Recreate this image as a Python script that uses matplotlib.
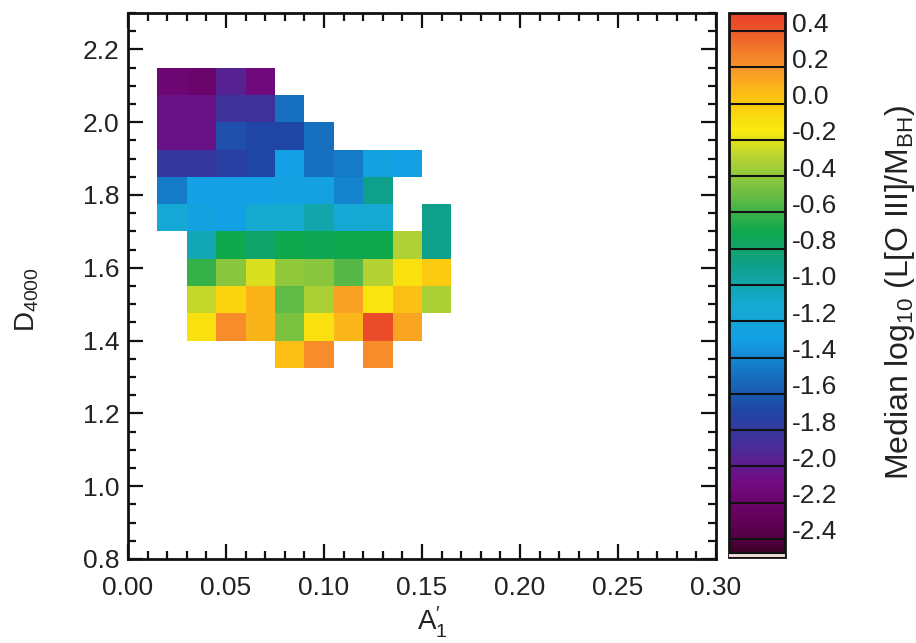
import matplotlib
matplotlib.use("Agg")
import matplotlib.pyplot as plt
import matplotlib.transforms as mtransforms
import numpy as np
from matplotlib.cm import ScalarMappable
from matplotlib.colors import LinearSegmentedColormap, Normalize
from matplotlib.ticker import FixedLocator, MultipleLocator

nan = np.nan

# bin edges of the 2D grid
a1_edges = [0.015, 0.030, 0.045, 0.060, 0.075, 0.090, 0.105, 0.120, 0.135, 0.150, 0.165]
d4000_edges = [1.325, 1.400, 1.475, 1.550, 1.625, 1.700, 1.775, 1.850, 1.925, 2.000, 2.075, 2.150]

# median log10(L[OIII]/M_BH) per bin, rows from low D4000 (bottom) to high D4000 (top)
median_ratio = [
    [nan, nan, nan, nan, 0.05, 0.22, nan, 0.22, nan, nan],
    [nan, -0.10, 0.22, 0.10, -0.45, -0.10, 0.08, 0.45, 0.14, nan],
    [nan, -0.27, -0.05, 0.10, -0.52, -0.33, 0.15, -0.12, 0.05, -0.33],
    [nan, -0.62, -0.42, -0.22, -0.40, -0.42, -0.55, -0.30, -0.10, 0.00],
    [nan, -1.02, -0.70, -0.80, -0.70, -0.72, -0.70, -0.70, -0.32, -0.90],
    [-1.15, -1.25, -1.30, -1.10, -1.10, -1.00, -1.15, -1.12, nan, -0.90],
    [-1.45, -1.30, -1.30, -1.30, -1.28, -1.25, -1.42, -0.90, nan, nan],
    [-1.80, -1.80, -1.75, -1.70, -1.30, -1.50, -1.45, -1.25, -1.30, nan],
    [-2.05, -2.05, -1.65, -1.70, -1.70, -1.50, nan, nan, nan, nan],
    [-2.05, -2.05, -1.85, -1.85, -1.50, nan, nan, nan, nan, nan],
    [-2.15, -2.20, -1.95, -2.12, nan, nan, nan, nan, nan, nan],
]

cbar_ticks = [0.4, 0.2, 0.0, -0.2, -0.4, -0.6, -0.8, -1.0, -1.2, -1.4, -1.6, -1.8, -2.0, -2.2, -2.4]

# colour table anchors (value, colour)
cmap_values = [-2.48, -2.42, -2.3, -2.1, -1.9, -1.7, -1.5, -1.3, -1.1, -0.9, -0.7,
               -0.5, -0.3, -0.15, 0.0, 0.1, 0.2, 0.3, 0.4, 0.5]
cmap_colors = ["#3c0020", "#4e0040", "#620058", "#720a80", "#4a2c98", "#1f45a5", "#1670bf",
               "#13a0e4", "#15aad0", "#0fa08c", "#10a84c", "#6bbd45", "#b4d234", "#f8ec10",
               "#fccc10", "#fbb31a", "#f7952a", "#f27a2a", "#ec5a2a", "#e8402a"]

plt.rcParams["font.family"] = ["Liberation Sans", "DejaVu Sans"]
plt.rcParams["axes.unicode_minus"] = False
plt.rcParams["mathtext.fontset"] = "custom"
plt.rcParams["mathtext.rm"] = "Liberation Sans"
plt.rcParams["mathtext.it"] = "Liberation Sans"

vmin, vmax = -2.5, 0.5
norm = Normalize(vmin=vmin, vmax=vmax)
cmap = LinearSegmentedColormap.from_list(
    "oiii", [(0.0, cmap_colors[0])] + [((v - vmin) / (vmax - vmin), c) for v, c in zip(cmap_values, cmap_colors)]
)

fig = plt.figure(figsize=(9.16, 6.43), dpi=100)
ax = fig.add_axes([128 / 916, 1 - 559 / 643, 588 / 916, 546 / 643])

grid = np.ma.masked_invalid(np.array(median_ratio))
ax.pcolormesh(a1_edges, d4000_edges, grid, cmap=cmap, norm=norm)

ax.set_xlim(0.0, 0.30)
ax.set_ylim(0.8, 2.3)
ax.xaxis.set_major_locator(MultipleLocator(0.05))
ax.xaxis.set_minor_locator(MultipleLocator(0.01))
ax.yaxis.set_major_locator(MultipleLocator(0.2))
ax.yaxis.set_minor_locator(MultipleLocator(0.05))
ax.xaxis.set_major_formatter(plt.FormatStrFormatter("%.2f"))
ax.yaxis.set_major_formatter(plt.FormatStrFormatter("%.1f"))
ax.tick_params(which="both", direction="in", top=True, right=True, width=1.6, color="#111111")
ax.tick_params(which="major", length=11, labelsize=19, labelcolor="#222222")
ax.tick_params(which="minor", length=6)
ax.tick_params(axis="x", pad=12)
ax.tick_params(axis="y", pad=6)
for sp in ax.spines.values():
    sp.set_linewidth(2)
    sp.set_color("#111111")

fig.text(432 / 916, 1 - 622 / 643, r"A$_1^{\prime}$", fontsize=20, ha="center", va="center",
         color="#222222")
fig.text(27 / 916, 1 - 300 / 643, r"D$_{4000}$", fontsize=20, ha="center", va="center",
         rotation=90, color="#222222")

# colour bar
cax = fig.add_axes([729 / 916, 1 - 557 / 643, 56 / 916, 544 / 643])
sm = ScalarMappable(norm=norm, cmap=cmap)
cb = fig.colorbar(sm, cax=cax)
cb.outline.set_linewidth(2)
cb.outline.set_edgecolor("#111111")
cax.axhspan(-2.5, -2.48, color="#f0dada", zorder=3)
for lev in cbar_ticks + [-2.48]:
    cax.axhline(lev, color="#111111", linewidth=1.5, zorder=4)
cax.yaxis.set_major_locator(FixedLocator(cbar_ticks))
cax.yaxis.set_minor_locator(FixedLocator([]))
cax.set_yticklabels([f"{t:.1f}" for t in cbar_ticks])
cax.tick_params(length=0, labelsize=19, pad=5, labelcolor="#222222")
shift = mtransforms.ScaledTranslation(0, 0.09, fig.dpi_scale_trans)
for lab in cax.get_yticklabels():
    lab.set_transform(lab.get_transform() + shift)

fig.text(900 / 916, 1 - 292 / 643, r"Median log$_{10}$ (L[O III]/M$_{BH}$)", fontsize=23,
         rotation=90, ha="center", va="center", color="#222222")

fig.savefig("out.png", dpi=100)
